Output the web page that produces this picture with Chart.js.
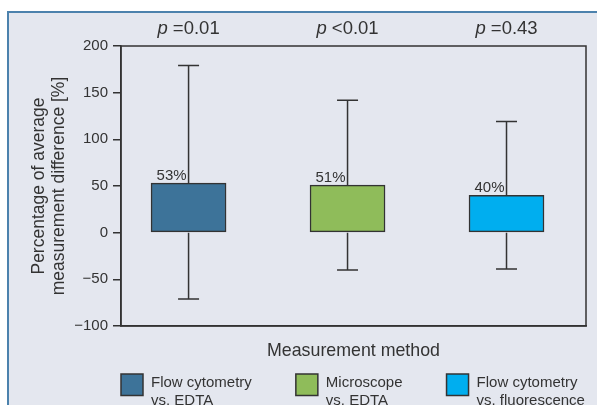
<!DOCTYPE html>
<html lang="en">
<head>
<meta charset="UTF-8" />
<title>Measurement difference by method</title>
<script src="https://cdn.jsdelivr.net/npm/chart.js"></script>
<style>
  body { margin: 0; background: #fff; overflow: hidden; }
  .panel { position: absolute; left: 7px; top: 11px; width: 600px; height: 400px; background: #e4e7ef; border-top: 2px solid #4c82ad; border-left: 2px solid #4c82ad; }
  .chart-box { position: absolute; left: 0; top: 0; width: 597px; height: 405px; }
</style>
</head>
<body>
<div class="panel"></div>
<div class="chart-box"><canvas id="diffChart"></canvas></div>
<script>
// data
const methods = ['Flow cytometry vs. EDTA', 'Microscope vs. EDTA', 'Flow cytometry vs. fluorescence'];
const legendLines = [['Flow cytometry', 'vs. EDTA'], ['Microscope', 'vs. EDTA'], ['Flow cytometry', 'vs. fluorescence']];
const meanDiff = [53, 51, 40];
const upperLimit = [179, 142, 119];
const lowerLimit = [-71, -40, -39];
const pValues = [' =0.01', ' <0.01', ' =0.43'];
const barColors = ['#3d7399', '#8fbc5a', '#00aeef'];
const yTicks = [-100, -50, 0, 50, 100, 150, 200];

const ink = '#333333';
const family = '"Liberation Sans", Arial, sans-serif';
Chart.defaults.font.family = family;
Chart.defaults.color = ink;

// whiskers, frame, % labels, p values and the legend
const extras = {
    id: 'extras',
    afterDatasetsDraw(chart) {
        const { ctx, chartArea: a, scales: { x, y } } = chart;
        ctx.save();
        ctx.strokeStyle = ink;
        ctx.fillStyle = ink;
        ctx.lineWidth = 1.5;
        ctx.strokeRect(a.left, a.top, a.right - a.left, a.bottom - a.top);

        meanDiff.forEach((m, i) => {
            const cx = x.getPixelForValue(i + 1);
            const top = y.getPixelForValue(m);
            const zero = y.getPixelForValue(0);
            const hi = y.getPixelForValue(upperLimit[i]);
            const lo = y.getPixelForValue(lowerLimit[i]);
            ctx.beginPath();
            ctx.moveTo(cx, top); ctx.lineTo(cx, hi);
            ctx.moveTo(cx - 10.5, hi); ctx.lineTo(cx + 10.5, hi);
            ctx.moveTo(cx, zero); ctx.lineTo(cx, lo);
            ctx.moveTo(cx - 10.5, lo); ctx.lineTo(cx + 10.5, lo);
            ctx.stroke();

            ctx.font = '15px ' + family;
            ctx.textAlign = 'right';
            ctx.textBaseline = 'alphabetic';
            ctx.fillText(m + '%', cx - 2, top - 3);

            // p value above each box
            ctx.textAlign = 'left';
            ctx.textBaseline = 'middle';
            ctx.font = 'italic 18.5px ' + family;
            const w1 = ctx.measureText('p').width;
            ctx.font = '18.5px ' + family;
            const w2 = ctx.measureText(pValues[i]).width;
            const sx = cx - (w1 + w2) / 2;
            ctx.font = 'italic 18.5px ' + family;
            ctx.fillText('p', sx, a.top - 17);
            ctx.font = '18.5px ' + family;
            ctx.fillText(pValues[i], sx + w1, a.top - 17);
        });

        // legend under the axis title
        const legendTop = a.bottom + 48;
        let lx = a.left;
        ctx.font = '15px ' + family;
        ctx.textAlign = 'left';
        ctx.textBaseline = 'alphabetic';
        legendLines.forEach((lines, i) => {
            ctx.fillStyle = barColors[i];
            ctx.fillRect(lx, legendTop, 22, 21.5);
            ctx.strokeRect(lx, legendTop, 22, 21.5);
            ctx.fillStyle = ink;
            let tw = 0;
            lines.forEach((t, k) => {
                ctx.fillText(t, lx + 30, legendTop + 13 + k * 17.5);
                tw = Math.max(tw, ctx.measureText(t).width);
            });
            lx += 30 + tw + 44;
        });
        ctx.restore();
    }
};

new Chart(document.getElementById('diffChart'), {
    type: 'bar',
    data: {
        labels: methods,
        datasets: [{
            label: 'Percentage of average measurement difference',
            data: meanDiff.map((v, i) => ({ x: i + 1, y: v })),
            backgroundColor: barColors,
            borderColor: ink,
            borderWidth: 1.5,
            borderSkipped: false,
            barThickness: 75
        }]
    },
    options: {
        responsive: true,
        maintainAspectRatio: false,
        animation: false,
        layout: { padding: { top: 46, right: 11, bottom: 43, left: 0 } },
        plugins: {
            legend: { display: false },
            tooltip: { enabled: false }
        },
        scales: {
            x: {
                type: 'linear',
                min: 0.575,
                max: 3.5,
                offset: false,
                ticks: { display: false },
                grid: { display: false },
                border: { display: true, color: ink, width: 1.5 },
                title: { display: true, text: 'Measurement method', font: { size: 17.8 }, padding: 0, color: ink },
                afterFit: s => { s.height = 36; }
            },
            y: {
                min: yTicks[0],
                max: yTicks[yTicks.length - 1],
                ticks: {
                    stepSize: yTicks[1] - yTicks[0],
                    padding: 5,
                    font: { size: 15 },
                    color: ink,
                    callback: v => String(v).replace('-', '\u2212')
                },
                grid: { drawOnChartArea: false, drawTicks: true, tickLength: 8, color: ink, lineWidth: 1.5 },
                border: { display: true, color: ink, width: 1.5 },
                title: {
                    display: true,
                    text: ['Percentage of average', 'measurement difference [%]'],
                    font: { size: 17.5, lineHeight: 1.143 },
                    padding: { top: 29, bottom: 0 },
                    color: ink
                },
                afterFit: s => { s.width = 121; }
            }
        }
    },
    plugins: [extras]
});
</script>
</body>
</html>
